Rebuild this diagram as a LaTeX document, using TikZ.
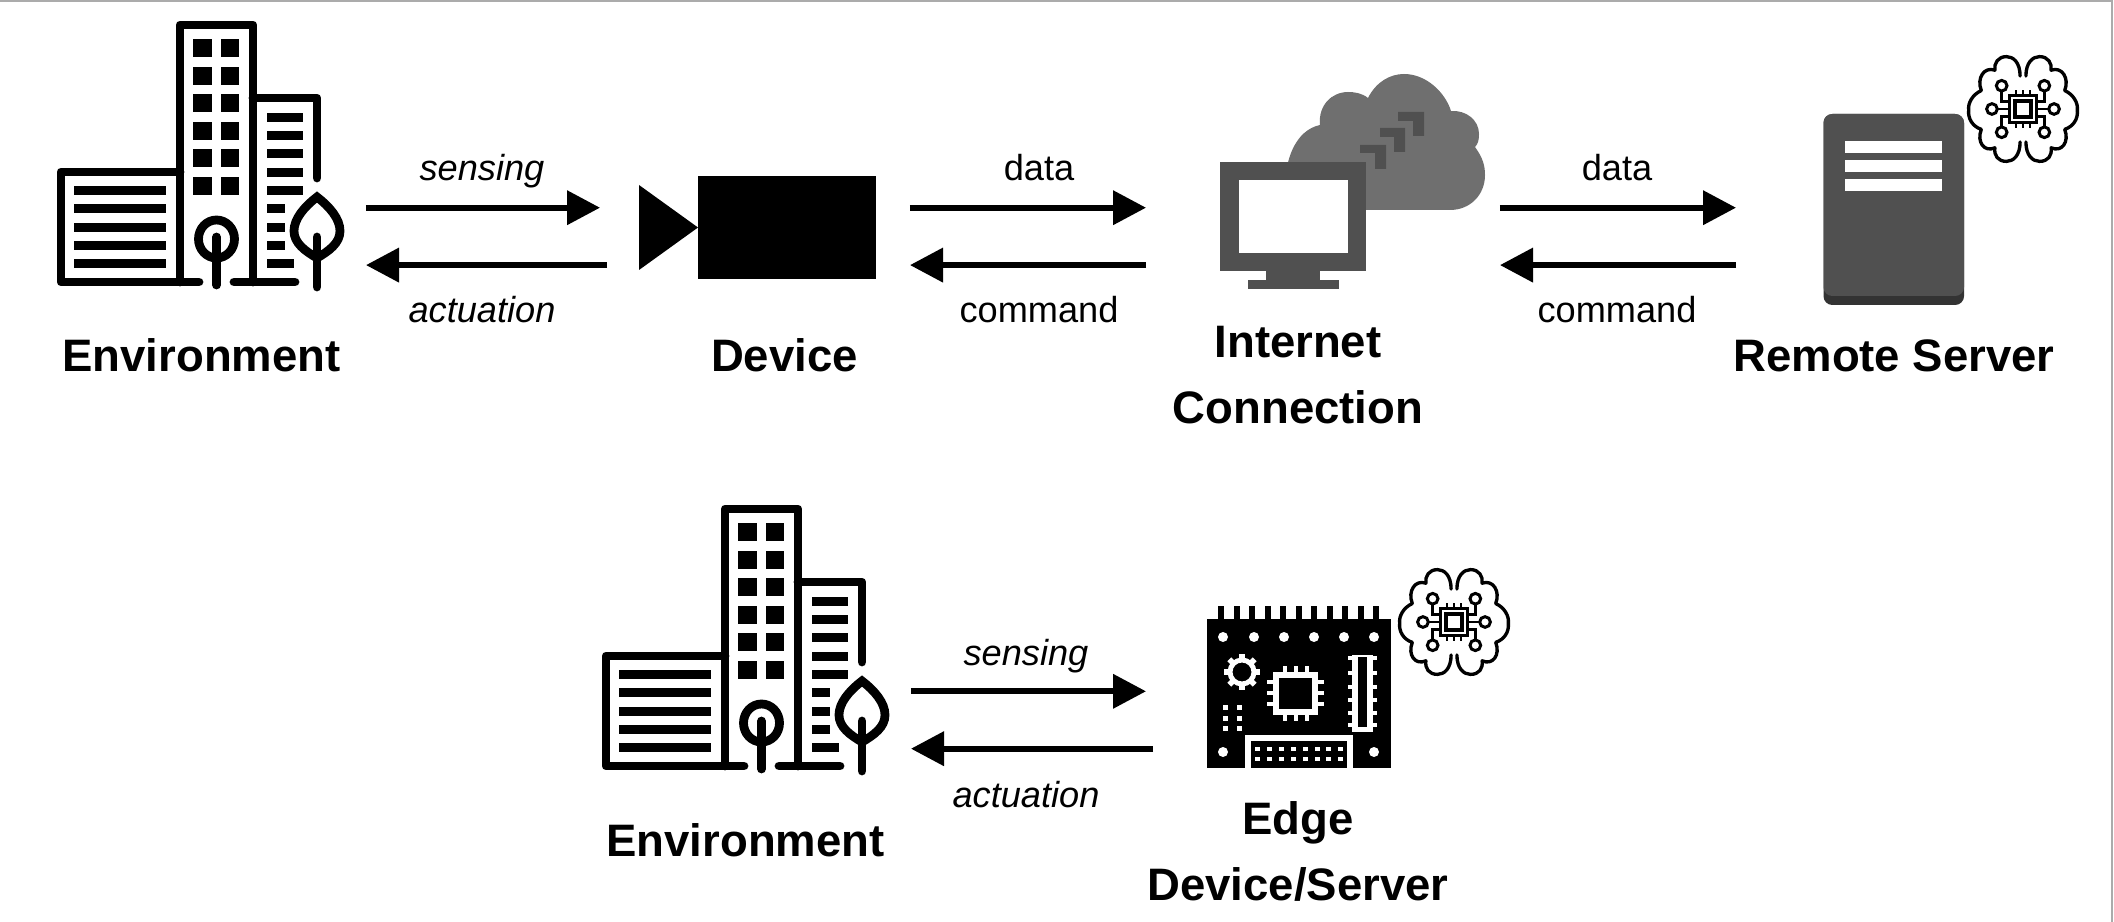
\documentclass[tikz,border=0pt]{standalone}
\usepackage{fontspec}
\setmainfont{Liberation Sans}
\usetikzlibrary{arrows.meta}
\definecolor{monitorgrey}{HTML}{505050}
\definecolor{cloudgrey}{HTML}{6F6F6F}
\definecolor{serverbase}{HTML}{333333}
\definecolor{framegrey}{HTML}{ABABAB}
\tikzset{
  flow/.style={line width=3.3pt,-{Triangle[length=18.8pt,width=19pt]}},
  iconbox/.style={inner sep=0pt,outer sep=0pt,minimum height=0pt},
  flowtext/.style={font=\fontsize{20.6}{24}\selectfont,anchor=base},
  flowslant/.style={font=\fontsize{20.6}{24}\selectfont\itshape,anchor=base},
  nametext/.style={font=\fontsize{25.9}{37.5}\selectfont\bfseries,anchor=base,align=center},
  wall/.style={line width=5pt,line cap=round,line join=round},
  pics/building/.style={code={
    \draw[wall] (199,282) -- (61,282) -- (61,172) -- (180,172);
    \draw[wall] (180,282) -- (180,25) -- (253,25) -- (253,282);
    \draw[wall] (253,98) -- (317,98) -- (317,178);
    \draw[wall] (234,282) -- (295,282);
    \foreach \y in {39,67,94,122,149,177} {
      \fill (193,\y) rectangle +(19,18);
      \fill (221,\y) rectangle +(18,18);
    }
    \foreach \y in {186,204,223,241,259}
      \fill (74,\y) rectangle (166,\y+9);
    \foreach \y in {113,131,149,168,186}
      \fill (267,\y) rectangle (303,\y+9);
    \foreach \y in {204,223,241}
      \fill (267,\y) rectangle (285,\y+9);
    \fill (267,259) rectangle (294,268);
    \draw[wall] (216.5,239) ellipse [x radius=18,y radius=19];
    \draw[wall] (216.5,237) -- (216.5,285);
    \draw[wall,line join=miter] (317,197) .. controls (330,207) and (340,219) .. (340,231)
      .. controls (340,243) and (329,251) .. (317,258)
      .. controls (305,251) and (294,243) .. (294,231)
      .. controls (294,219) and (304,207) .. (317,197) -- cycle;
    \draw[wall] (317,237) -- (317,287);
  }},
  pics/brain/.style={code={
    \foreach \s in {1,-1} {
      \begin{scope}[xscale=\s]
        \draw[line width=1.9pt,line cap=round,line join=round] (3,-34) .. controls (3,-48) and (10,-54) .. (17,-54)
          .. controls (26,-54) and (30,-47) .. (29,-40)
          .. controls (40,-44) and (48,-32) .. (43,-19)
          .. controls (52,-15) and (57,-6) .. (56,1)
          .. controls (57,10) and (52,18) .. (43,21)
          .. controls (48,34) and (40,45) .. (29,40)
          .. controls (30,48) and (26,54) .. (17,54)
          .. controls (10,54) and (3,48) .. (3,34);
        \draw[line width=1.7pt] (22,-24) circle (5.5);
        \draw[line width=1.7pt] (22,24) circle (5.5);
        \draw[line width=1.7pt] (32,0) circle (5.5);
        \draw[line width=1.7pt] (22,-19) -- (22,-8) -- (14,-8);
        \draw[line width=1.7pt] (22,19) -- (22,8) -- (14,8);
        \draw[line width=1.7pt] (27,0) -- (14,0);
      \end{scope}
    }
    \draw[line width=1.7pt] (-14,-14) rectangle (14,14);
    \draw[line width=2.2pt] (-8,-8) rectangle (8,8);
    \foreach \x in {-7,0,7} {
      \draw[line width=1.4pt] (\x,-14) -- (\x,-20);
      \draw[line width=1.4pt] (\x,14) -- (\x,20);
    }
  }}
}

\begin{document}
\begin{tikzpicture}[x=0.02cm,y=-0.02cm]
  \useasboundingbox (0,0) rectangle (2114,922);
  \fill[white] (0,0) rectangle (2114,922);
  \draw[framegrey,line width=1.4pt] (0,1) -- (2112,1) -- (2112,922);

  % anchors of the connectors
  \node[iconbox,minimum width=6.16cm] (envtop) at (212,236.4) {};
  \node[iconbox,minimum width=6.20cm] (devtop) at (755,236.4) {};
  \node[iconbox,minimum width=7.08cm] (inettop) at (1323,236.4) {};
  \node[iconbox,minimum width=4.56cm] (servertop) at (1850,236.4) {};
  \node[iconbox,minimum width=6.16cm] (envlow) at (757,720) {};
  \node[iconbox,minimum width=4.90cm] (edgelow) at (1268.5,720) {};

  % top row
  \pic at (0,0) {building};
  \path[fill=black] (639,185) -- (698,227.5) -- (639,270) -- cycle;
  \fill (698,176) rectangle (876,279);

  \fill[cloudgrey] (1286,200) .. controls (1282,160) and (1296,130) .. (1320,125)
    .. controls (1318,105) and (1332,92) .. (1348,92)
    .. controls (1354,92) and (1362,93) .. (1368,98)
    .. controls (1376,82) and (1390,74) .. (1404,74)
    .. controls (1426,74) and (1445,92) .. (1451,111)
    .. controls (1466,110) and (1479,120) .. (1479,134)
    .. controls (1479,140) and (1478,144) .. (1475,147)
    .. controls (1483,158) and (1485,166) .. (1485,175)
    .. controls (1485,195) and (1470,210) .. (1450,210) -- (1286,210) -- cycle;
  \fill[monitorgrey] (1360,145) -- (1386,145) -- (1386,169) -- (1375,169) -- (1375,153) -- (1360,153) -- cycle;
  \fill[monitorgrey] (1380,128) -- (1405,128) -- (1405,152) -- (1394,152) -- (1394,137) -- (1380,137) -- cycle;
  \fill[monitorgrey] (1398,112) -- (1424,112) -- (1424,136) -- (1413,136) -- (1413,121) -- (1398,121) -- cycle;
  \fill[monitorgrey] (1220,162) rectangle (1366,271);
  \fill[white] (1239,180) rectangle (1348,253);
  \fill[monitorgrey] (1266,271) rectangle (1320,280);
  \fill[monitorgrey] (1248,280) rectangle (1339,289);

  \fill[serverbase,rounded corners=5pt] (1823.5,114) rectangle (1964,305);
  \fill[monitorgrey,rounded corners=5pt] (1823.5,114) rectangle (1964,296);
  \foreach \y in {141,160,179}
    \fill[white] (1845,\y) rectangle (1942,\y+12);
  \pic[scale=0.97] at (2023,109) {brain};

  % bottom row
  \pic at (545,484) {building};

  \fill (1207,619) rectangle (1391,768);
  \foreach \i in {0,...,10}
    \fill (1218.3+15.5*\i,606) rectangle +(6,14);
  \foreach \x in {1223,1254,1284,1314,1344,1374}
    \fill[white] (\x,637) circle (5);
  \fill[white] (1223,752) circle (5);
  \fill[white] (1374,752) circle (5);
  \begin{scope}[shift={(1242,672)}]
    \draw[white,line width=2.8pt] (0,0) circle (12);
    \foreach \a in {0,45,...,315}
      \draw[white,line width=3.2pt] (\a:12) -- (\a:18);
  \end{scope}
  \foreach \y in {682,693,704}
    \draw[white,line width=2.2pt] (1267,\y) -- (1324,\y);
  \foreach \x in {1285,1296,1307}
    \draw[white,line width=2.2pt] (\x,666) -- (\x,721);
  \fill[white] (1273,672) rectangle (1318,715);
  \fill (1279,678) rectangle (1312,709);
  \foreach \y in {658,673,687,700,713,725}
    \draw[white,line width=2.2pt] (1348,\y) -- (1377,\y);
  \fill[white] (1352,655) rectangle (1373,732);
  \fill (1358,657) rectangle (1367,727);
  \foreach \x in {1225,1239}
    \foreach \y in {707,718,728}
      \fill[white] (\x-2.5,\y-2.5) rectangle +(5,5);
  \fill[white] (1245,735) rectangle (1353,768);
  \fill (1251,741) rectangle (1347,768);
  \foreach \i in {0,...,7} {
    \fill[white] (1255+11.9*\i,747) rectangle +(5,4);
    \fill[white] (1255+11.9*\i,757) rectangle +(5,4);
  }
  \pic[scale=0.97] at (1454,622) {brain};

  % connectors
  \draw[flow] ([yshift=0.574cm]envtop.east) -- ([yshift=0.574cm]devtop.west);
  \draw[flow] ([xshift=0.14cm,yshift=-0.574cm]devtop.west) -- ([yshift=-0.574cm]envtop.east);
  \draw[flow] ([yshift=0.574cm]devtop.east) -- ([yshift=0.574cm]inettop.west);
  \draw[flow] ([yshift=-0.574cm]inettop.west) -- ([yshift=-0.574cm]devtop.east);
  \draw[flow] ([yshift=0.574cm]inettop.east) -- ([yshift=0.574cm]servertop.west);
  \draw[flow] ([yshift=-0.574cm]servertop.west) -- ([yshift=-0.574cm]inettop.east);
  \draw[flow] ([yshift=0.574cm]envlow.east) -- ([yshift=0.574cm]edgelow.west);
  \draw[flow] ([xshift=0.14cm,yshift=-0.574cm]edgelow.west) -- ([yshift=-0.574cm]envlow.east);

  % labels
  \node[flowslant] (sensetop) at (482,181) {sensing};
  \node[flowslant] (acttop) at (482,323) {actuation};
  \node[flowtext] (datamid) at (1039,181) {data};
  \node[flowtext] (cmdmid) at (1039,323) {command};
  \node[flowtext] (dataright) at (1617,181) {data};
  \node[flowtext] (cmdright) at (1617,323) {command};
  \node[flowslant] (senselow) at (1026,665) {sensing};
  \node[flowslant] (actlow) at (1026,807) {actuation};

  \node[nametext] (envname) at (201.5,372) {Environment};
  \node[nametext] (devname) at (784.5,372) {Device};
  \node[nametext] (inetname) at (1298,423) {Internet\\Connection};
  \node[nametext] (servername) at (1894,372) {Remote Server};
  \node[nametext] (envlowname) at (745.5,856) {Environment};
  \node[nametext] (edgename) at (1298,900) {Edge\\Device/Server};
\end{tikzpicture}
\end{document}
